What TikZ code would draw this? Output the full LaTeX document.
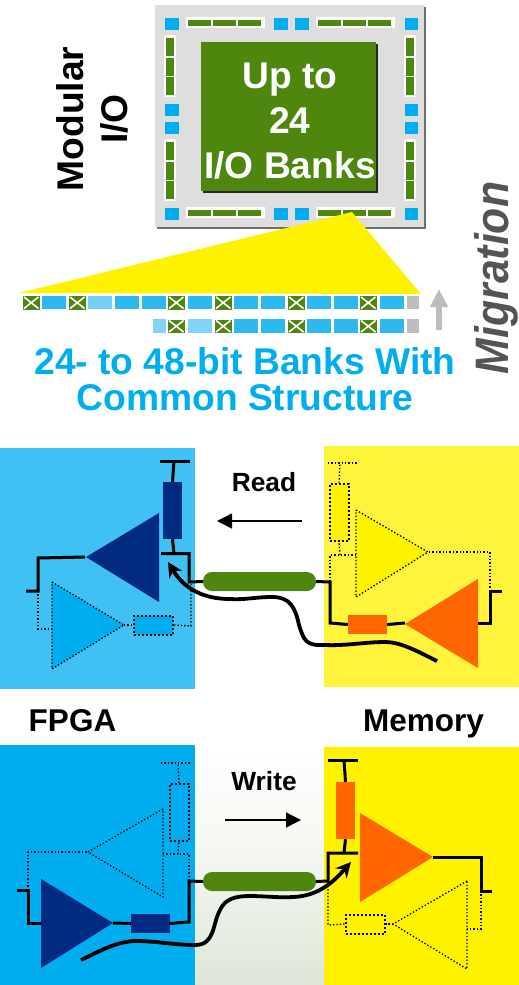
\documentclass[tikz,border=0pt]{standalone}
\usepackage{fontspec}
\setmainfont{Liberation Sans}
\usetikzlibrary{arrows.meta}
\definecolor{ioblue}{HTML}{00AEEF}
\definecolor{readblue}{HTML}{3FC1F3}
\definecolor{bankblue}{HTML}{2DB9F0}
\definecolor{banklight}{HTML}{73CFF5}
\definecolor{iogreen}{HTML}{4F860E}
\definecolor{memyellow}{HTML}{FFF200}
\definecolor{readyellow}{HTML}{FFF33B}
\definecolor{navy}{HTML}{002B80}
\definecolor{memorange}{HTML}{FF6600}
\definecolor{fademid}{HTML}{F3F6EF}
\definecolor{fadelow}{HTML}{DDE6D8}
\tikzset{
    wire/.style={line width=3pt},
    dotwire/.style={line width=1.3pt,dash pattern=on 1.4pt off 2pt},
    dotbox/.style={line width=2pt,dash pattern=on 2pt off 2pt},
    sweep/.style={line width=3.8pt,-{Stealth[length=15pt,width=15pt]}},
    dirarrow/.style={line width=1.4pt,-{Triangle[length=15pt,width=15pt]}},
    resbox/.style={rectangle,inner sep=0pt,minimum width=19pt,minimum height=57pt},
    reswide/.style={rectangle,inner sep=0pt,minimum width=39pt,minimum height=19pt},
    pill/.style={rectangle,rounded corners=9pt,fill=iogreen,inner sep=0pt,minimum width=113pt,minimum height=19pt},
    bigtext/.style={font=\fontsize{37.2}{44}\selectfont\bfseries,align=center,inner sep=0pt},
    midtext/.style={font=\fontsize{31.5}{36}\selectfont\bfseries,inner sep=0pt,anchor=base},
    smalltext/.style={font=\fontsize{26.3}{30}\selectfont\bfseries,inner sep=0pt,anchor=base}
}
\begin{document}
\begin{tikzpicture}[x=1pt,y=-1pt]
    \useasboundingbox (0,0) rectangle (519,985);

    % Chip outline
    \fill[black!57] (157,7) rectangle (426,229);
    \fill[black!13] (155,5) rectangle (424,227);
    \fill[black!85] (203,44) rectangle (378,193);
    \fill[iogreen] (201,42) rectangle (376,191);

    % Blue pads
    \foreach \y in {18,208}
        \foreach \xa/\xb in {165/179,274/288,295/309,405/418}
            \fill[ioblue] (\xa,\y) rectangle (\xb,\y+12);
    \foreach \y in {104,122}
        \foreach \xa/\xb in {165/179,405/418}
            \fill[ioblue] (\xa,\y) rectangle (\xb,\y+12);

    % Green strips along the edges
    \foreach \y in {17,207}
        \foreach \x in {186,316} {
            \fill[white] (\x,\y) rectangle (\x+79,\y+11);
            \foreach \d in {2,27,52}
                \fill[iogreen] (\x+\d,\y+2.5) rectangle (\x+\d+23,\y+8.5);
        }
    \foreach \x in {164,404}
        \foreach \y in {35,139} {
            \fill[white] (\x,\y) rectangle (\x+12,\y+62);
            \foreach \d in {3,22.5,42}
                \fill[iogreen] (\x+2,\y+\d) rectangle (\x+10,\y+\d+18);
        }

    % Bank zoom
    \fill[memyellow] (19,293) -- (352,212) -- (421,294) -- cycle;

    \foreach \xa/\xb in {42/66,115/139,142/166,188/212,234/258,261/285,307/331,334/358,380/404}
        \fill[bankblue] (\xa,296) rectangle (\xb,309);
    \fill[banklight] (88,296) rectangle (112,309);
    \fill[black!26] (407,296) rectangle (419,309);
    \foreach \xa/\xb in {234/258,261/285,307/331,334/358,380/404}
        \fill[bankblue] (\xa,319) rectangle (\xb,333);
    \fill[banklight!90!white] (153,319) rectangle (166,333);
    \fill[banklight!90!white] (188,319) rectangle (212,333);
    \fill[black!26] (407,319) rectangle (419,333);
    \foreach \x/\y in {23/296,69/296,168/296,215/296,288/296,360/296,168/319.5,215/319.5,288/319.5,360/319.5} {
        \fill[iogreen] (\x,\y) rectangle (\x+16.5,\y+13.5);
        \draw[white,line width=1.6pt] (\x+1,\y+1) -- (\x+15.5,\y+12.5) (\x+1,\y+12.5) -- (\x+15.5,\y+1);
    }

    % Migration arrow
    \coordinate (migfoot) at (439,330);
    \coordinate (mighead) at (439,289);
    \draw[black!26,line width=6pt,-{Triangle[length=18pt,width=17pt]}] (migfoot) -- (mighead);

    % Top labels
    \node[bigtext,text=white] (chiplabel) at (290,121) {Up to\\[1pt]24\\[1pt]I/O Banks};
    \node[bigtext,rotate=90] (modular) at (92,119) {Modular\\I/O};
    \node[bigtext,font=\fontsize{47}{50}\selectfont\bfseries\itshape,text=black!67,rotate=90,anchor=base] (migration) at (508,278) {\scalebox{0.91}[1]{Migration}};
    \node[bigtext,font=\fontsize{37.2}{36}\selectfont\bfseries,text=ioblue] (banklabel) at (245,379) {24- to 48-bit Banks With\\Common Structure};

    % Panels
    \fill[readblue] (0,448) rectangle (195,689);
    \fill[readyellow] (324,446) rectangle (519,687);
    \shade[top color=white,bottom color=fadelow,middle color=fademid] (195,745) rectangle (324,985);
    \fill[ioblue] (0,745) rectangle (195,985);
    \fill[memyellow] (324,747) rectangle (519,985);

    % Read, FPGA side
    \node[pill] (readline) at (259.5,581.5) {};
    \node[resbox,fill=navy] (readterm) at (172.5,510.5) {};
    \coordinate (readtl) at (160,461);
    \coordinate (readtr) at (190,461);
    \coordinate (readtm) at (174,461);
    \coordinate (readjl) at (161,553.5);
    \coordinate (readjm) at (174,553.5);
    \coordinate (readjr) at (189,553.5);
    \coordinate (readpad) at (189,582);
    \coordinate (readin) at (26,591);
    \coordinate (readink) at (38,591);
    \draw[wire] (readtl) -- (readtr);
    \draw[wire] (readtm) -- (readterm.north);
    \draw[wire] (readterm.south) -- (readjm);
    \draw[wire] (readjl) -- (readjr) -- (readpad) -- (readline.west);
    \fill[navy] (159,513) -- (86,557) -- (159,602) -- cycle;
    \draw[wire] (85,557) -- (38,558) -- (readink) -- (readin);
    \filldraw[ioblue,draw=black,dotwire] (52,582) -- (124,625) -- (52,669) -- cycle;
    \node[reswide,fill=ioblue,draw=black,dotbox] (readdrv) at (153.5,625) {};
    \draw[dotwire] (readink) -- (38,629) -- (52,629);
    \draw[dotwire] (124,625) -- (readdrv.west);
    \draw[dotwire] (readdrv.east) -- (191,626) -- (191,582);

    % Read, memory side
    \node[resbox,fill=memyellow,draw=black,dotbox] (readmterm) at (339,512.5) {};
    \node[reswide,fill=memorange] (readmres) at (367.5,624.5) {};
    \coordinate (readmtl) at (328,463);
    \coordinate (readmtr) at (357,463);
    \coordinate (readmtm) at (340,463);
    \coordinate (readmpad) at (330,582);
    \coordinate (readmj) at (340,555);
    \coordinate (readmout) at (502,591);
    \coordinate (readmk) at (490,591);
    \filldraw[memyellow,draw=black,dotwire] (356,510) -- (428,552) -- (356,597) -- cycle;
    \draw[dotwire] (readmk) -- (490,552) -- (428,552);
    \draw[dotwire] (356,555) -- (330,555) -- (readmpad);
    \draw[dotwire] (readmj) -- (readmterm.south);
    \draw[dotwire] (readmterm.north) -- (readmtm);
    \draw[dotwire] (readmtl) -- (readmtr);
    \fill[memorange] (405,624) -- (478,579) -- (478,668) -- cycle;
    \draw[wire] (readline.east) -- (readmpad) -- (330,623) -- (readmres.west);
    \draw[wire] (readmres.east) -- (405,623);
    \draw[wire] (478,623) -- (490,623) -- (readmk) -- (readmout);

    % Read sweep
    \coordinate (readfrom) at (437,661);
    \coordinate (readto) at (168,562);
    \draw[sweep] (readfrom) .. controls (415,650) and (400,642) .. (385,642)
        .. controls (365,642) and (345,646) .. (325,645)
        .. controls (305,646) and (304,640) .. (299,625)
        .. controls (295,607) and (290,597) .. (272,597)
        .. controls (255,597) and (245,600) .. (230,599)
        .. controls (205,599) and (185,590) .. (readto);

    % Write, FPGA side
    \node[pill] (writeline) at (259.5,881.5) {};
    \node[reswide,fill=navy] (writeres) at (150.5,923.5) {};
    \node[resbox,fill=ioblue,draw=black,dotbox] (writeterm) at (179,812.5) {};
    \coordinate (writetl) at (161,763);
    \coordinate (writetr) at (191,763);
    \coordinate (writetm) at (178,763);
    \coordinate (writepad) at (189,881);
    \coordinate (writej) at (178,854);
    \coordinate (writein) at (17,890);
    \coordinate (writeink) at (28,890);
    \draw[dotwire] (163,809) -- (88,852) -- (163,897) -- cycle;
    \draw[dotwire] (writeink) -- (28,852) -- (88,852);
    \draw[dotwire] (163,854) -- (189,854) -- (writepad);
    \draw[dotwire] (writej) -- (writeterm.south);
    \draw[dotwire] (writeterm.north) -- (writetm);
    \draw[dotwire] (writetl) -- (writetr);
    \fill[navy] (41,879) -- (113,923) -- (41,968) -- cycle;
    \draw[wire] (writein) -- (writeink) -- (28,923) -- (41,923);
    \draw[wire] (113,923) -- (writeres.west);
    \draw[wire] (writeres.east) -- (189,922) -- (writepad) -- (writeline.west);

    % Write, memory side
    \node[resbox,fill=memorange] (writemterm) at (345.5,810.5) {};
    \node[reswide,fill=memyellow,draw=black,dotbox] (writemdrv) at (365,924) {};
    \coordinate (writemtl) at (328,760);
    \coordinate (writemtr) at (358,760);
    \coordinate (writemtm) at (344,760);
    \coordinate (writemjl) at (328,853);
    \coordinate (writemjm) at (344,853);
    \coordinate (writemjr) at (358,853);
    \coordinate (writempad) at (328,881);
    \coordinate (writemout) at (492,891);
    \coordinate (writemk) at (481,891);
    \draw[wire] (writemtl) -- (writemtr);
    \draw[wire] (writemtm) -- (writemterm.north);
    \draw[wire] (writemterm.south) -- (writemjm);
    \draw[wire] (writemjr) -- (writemjl) -- (writempad) -- (writeline.east);
    \fill[memorange] (360,813) -- (433,857) -- (360,902) -- cycle;
    \draw[wire] (433,857) -- (481,857) -- (writemk) -- (writemout);
    \draw[dotwire] (467,881) -- (393,924) -- (467,969) -- cycle;
    \draw[dotwire] (writemk) -- (481,929) -- (467,929);
    \draw[dotwire] (393,924) -- (writemdrv.east);
    \draw[dotwire] (writemdrv.west) -- (328,925) -- (writempad);

    % Write sweep
    \coordinate (writefrom) at (81,960);
    \coordinate (writeto) at (351,862);
    \draw[sweep] (writefrom) .. controls (100,951) and (117,941) .. (137,941)
        .. controls (155,941) and (175,945) .. (195,945)
        .. controls (215,945) and (212,925) .. (220,910)
        .. controls (225,899) and (235,896) .. (250,896)
        .. controls (265,896) and (280,898) .. (293,897)
        .. controls (320,896) and (335,880) .. (writeto);

    % Direction arrows and side labels
    \coordinate (readstart) at (302,521);
    \coordinate (readend) at (217,521);
    \draw[dirarrow] (readstart) -- (readend);
    \coordinate (writestart) at (225,820);
    \coordinate (writeend) at (301,820);
    \draw[dirarrow] (writestart) -- (writeend);
    \node[smalltext] (readlabel) at (264,491) {Read};
    \node[smalltext] (writelabel) at (264,790) {Write};
    \node[midtext] (fpgalabel) at (72.5,731) {FPGA};
    \node[midtext] (memlabel) at (423.5,731) {Memory};
\end{tikzpicture}
\end{document}
